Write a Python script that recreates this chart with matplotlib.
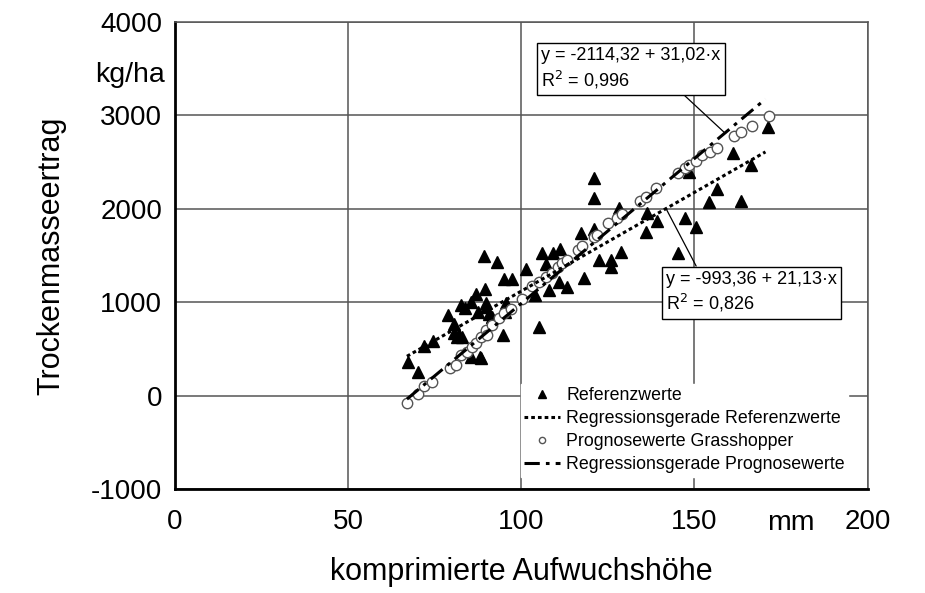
import numpy as np
import matplotlib
matplotlib.use("Agg")
import matplotlib.pyplot as plt

plt.rcParams["font.family"] = ["Liberation Sans", "DejaVu Sans"]
plt.rcParams["axes.unicode_minus"] = False

# ---------------------------------------------------------------------------
# Data
# ---------------------------------------------------------------------------
ref_x = [67.2, 70.3, 71.8, 74.4, 79.0, 80.7, 80.5, 81.6, 83.0, 81.9,
         82.7, 83.9, 85.6, 86.9, 85.6, 88.2, 88.5, 89.3, 89.6, 89.9,
         90.7, 91.5, 89.9, 87.5, 92.9, 95.1, 97.4, 95.7, 95.4, 94.8,
         101.4, 103.9, 105.2, 106.1, 107.2, 109.2, 111.2, 108.1, 111.0, 113.3,
         117.3, 118.2, 121.0, 121.0, 121.0, 122.5, 125.9, 125.9, 128.2, 128.8,
         136.3, 136.0, 139.2, 145.2, 147.3, 148.4, 150.4, 154.2, 156.5, 161.1,
         163.4, 166.3, 171.2]
ref_y = [360, 250, 530, 590, 865, 770, 675, 630, 630, 650,
         970, 940, 1000, 1090, 410, 410, 400, 1495, 1140, 990,
         880, 840, 948, 900, 1435, 1250, 1250, 995, 900, 650,
         1356, 1082, 735, 1527, 1409, 1527, 1570, 1131, 1217, 1162,
         1742, 1259, 2331, 2117, 1784, 1453, 1453, 1377, 2009, 1538,
         1956, 1752, 1870, 1527, 1902, 2395, 1806, 2074, 2213, 2599,
         2085, 2470, 2878]

prog_x = [67.1, 70.3, 72.0, 74.1, 79.3, 81.3, 82.7, 84.4, 85.9, 87.0,
          88.5, 89.9, 90.2, 91.6, 93.7, 95.1, 97.0, 100.3, 103.2, 105.2,
          107.2, 108.9, 110.7, 111.8, 113.3, 116.4, 117.6, 121.0, 121.9, 125.0,
          127.7, 129.1, 134.3, 136.0, 138.9, 145.3, 147.3, 148.4, 150.4, 152.3,
          154.4, 156.4, 161.4, 163.3, 166.5, 171.5]
prog_y = [-80, 16, 102, 145, 295, 327, 434, 466, 520, 563,
          627, 702, 648, 756, 831, 884, 930, 1034, 1170, 1217,
          1270, 1313, 1377, 1420, 1452, 1559, 1602, 1700, 1720, 1850,
          1900, 1943, 2084, 2128, 2224, 2384, 2438, 2470, 2512, 2577,
          2613, 2656, 2781, 2823, 2888, 2996]

# regression coefficients as printed in the chart (intercept, slope)
ref_fit = (-993.36, 21.13)
prog_fit = (-2114.32, 31.02)
fit_range = [67.0, 170.5]

ref_label = "y = -993,36 + 21,13·x\nR$^2$ = 0,826"
prog_label = "y = -2114,32 + 31,02·x\nR$^2$ = 0,996"

x_ticks = [0, 50, 100, 150, 200]
y_ticks = [-1000, 0, 1000, 2000, 3000, 4000]

# ---------------------------------------------------------------------------
# Plot
# ---------------------------------------------------------------------------
fig = plt.figure(figsize=(9.25, 5.93), dpi=100)
ax = fig.add_axes([0.189, 0.175, 0.749, 0.788])

ax.set_xlim(0, 200)
ax.set_ylim(-1000, 4000)
ax.set_xticks(x_ticks)
ax.set_yticks(y_ticks)
ax.tick_params(axis="both", length=0, labelsize=20)
ax.tick_params(axis="x", pad=14)
ax.tick_params(axis="y", pad=9)
ax.grid(True, color="#555555", linewidth=1.1)
ax.set_axisbelow(True)
for side in ("top", "right"):
    ax.spines[side].set_color("#555555")
    ax.spines[side].set_linewidth(1.1)
for side in ("left", "bottom"):
    ax.spines[side].set_color("black")
    ax.spines[side].set_linewidth(2.0)

fx = np.array(fit_range)

ax.plot(ref_x, ref_y, linestyle="none", marker="^", markersize=9,
        color="black", label="Referenzwerte", zorder=3)
ax.plot(fx, ref_fit[0] + ref_fit[1] * fx, linestyle=(0, (1.2, 1.0)),
        color="black", linewidth=2.2, label="Regressionsgerade Referenzwerte",
        zorder=4)
ax.plot(prog_x, prog_y, linestyle="none", marker="o", markersize=7.5,
        markerfacecolor="white", markeredgecolor="#555555",
        markeredgewidth=1.0, label="Prognosewerte Grasshopper", zorder=3)
ax.plot(fx, prog_fit[0] + prog_fit[1] * fx, linestyle=(0, (5, 2, 1.2, 2)),
        color="black", linewidth=2.2, label="Regressionsgerade Prognosewerte",
        zorder=4)

box = dict(boxstyle="square,pad=0.25", facecolor="white",
           edgecolor="black", linewidth=1.0)
ax.annotate(prog_label, xy=(158.8, prog_fit[0] + prog_fit[1] * 158.8),
            xytext=(105.8, 3730), ha="left", va="top", fontsize=13,
            linespacing=1.25, bbox=box, zorder=6,
            arrowprops=dict(arrowstyle="-", color="black", lw=0.9,
                            relpos=(0.77, 0.0), shrinkA=0, shrinkB=0))
ax.annotate(ref_label, xy=(141.8, ref_fit[0] + ref_fit[1] * 141.8),
            xytext=(141.8, 1340), ha="left", va="top", fontsize=13,
            linespacing=1.25, bbox=box, zorder=6,
            arrowprops=dict(arrowstyle="-", color="black", lw=0.9,
                            relpos=(0.19, 1.0), shrinkA=0, shrinkB=0))

leg = ax.legend(loc="lower right", bbox_to_anchor=(0.985, 0.008),
                fontsize=12.8, frameon=True, fancybox=False, framealpha=1.0,
                edgecolor="white", handlelength=2.0, handletextpad=0.35,
                labelspacing=0.33, borderpad=0.2, markerscale=0.6)
leg.set_zorder(7)

ax.set_ylabel("Trockenmasseertrag", fontsize=22, labelpad=18)
ax.set_xlabel("komprimierte Aufwuchshöhe", fontsize=22, labelpad=16)
fig.text(0.178, 0.873, "kg/ha", fontsize=20.5, ha="right", va="center")
fig.text(0.855, 0.118, "mm", fontsize=20.5, ha="center", va="center")

fig.savefig("out.png", dpi=100)
